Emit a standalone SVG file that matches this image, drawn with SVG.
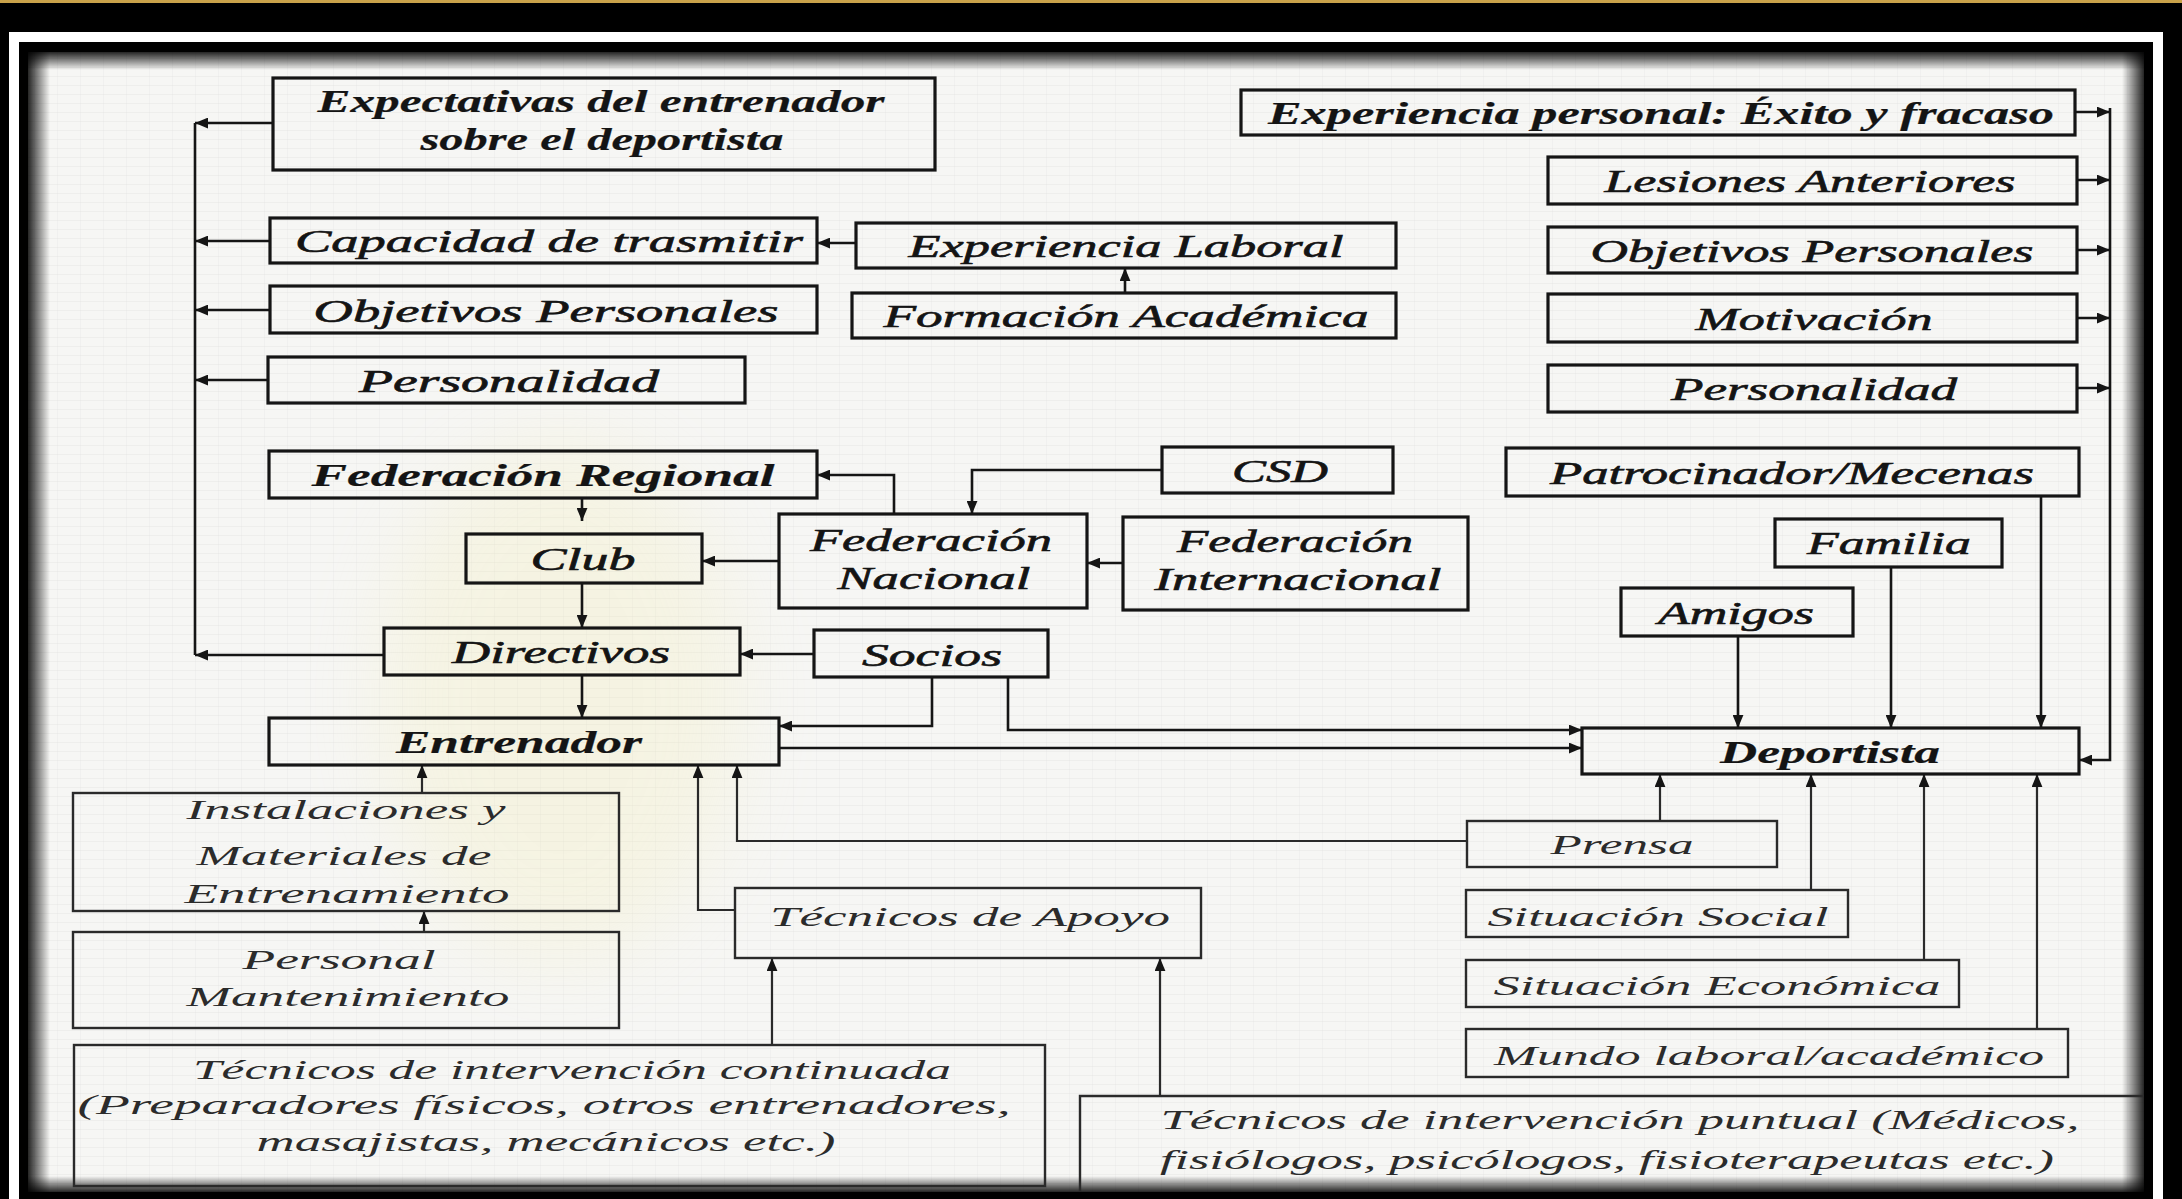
<svg xmlns="http://www.w3.org/2000/svg" width="2182" height="1199" viewBox="0 0 2182 1199">
<defs>
<style>
.bx{fill:none;stroke:#151515;stroke-width:3.2}
.bl{fill:none;stroke:#2a2a2a;stroke-width:2.4}
.t{font-family:"Liberation Serif","Times New Roman",serif;font-style:italic;fill:#141414;text-anchor:middle;font-size:31px;stroke:#141414;stroke-width:0.6}
.b{font-weight:bold;stroke-width:0.2}
.lt{fill:#2b2b2b;font-size:28px;stroke:none}
.c{fill:none;stroke:#151515;stroke-width:2.6}
.cl{fill:none;stroke:#2a2a2a;stroke-width:2.2}
</style>
<marker id="ah" viewBox="0 0 12 10" refX="12" refY="5" markerWidth="13" markerHeight="11" markerUnits="userSpaceOnUse" orient="auto"><path d="M0,0L12,5L0,10z" fill="#151515"/></marker>
<linearGradient id="gL" x1="0" y1="0" x2="1" y2="0"><stop offset="0" stop-color="#000" stop-opacity="0.85"/><stop offset="1" stop-color="#000" stop-opacity="0"/></linearGradient>
<linearGradient id="gR" x1="1" y1="0" x2="0" y2="0"><stop offset="0" stop-color="#000" stop-opacity="0.85"/><stop offset="1" stop-color="#000" stop-opacity="0"/></linearGradient>
<linearGradient id="gT" x1="0" y1="0" x2="0" y2="1"><stop offset="0" stop-color="#000" stop-opacity="0.85"/><stop offset="1" stop-color="#000" stop-opacity="0"/></linearGradient>
<linearGradient id="gB" x1="0" y1="1" x2="0" y2="0"><stop offset="0" stop-color="#000" stop-opacity="0.85"/><stop offset="1" stop-color="#000" stop-opacity="0"/></linearGradient>
<pattern id="scan" width="23" height="9" patternUnits="userSpaceOnUse"><rect width="23" height="9" fill="#f6f6f4"/><rect y="4" width="23" height="1" fill="#cfcfcf" opacity="0.22"/><rect x="11" width="1" height="9" fill="#cfcfcf" opacity="0.15"/></pattern>
<filter id="blur" x="-50%" y="-50%" width="200%" height="200%"><feGaussianBlur stdDeviation="40"/></filter>
</defs>

<g id="background">
<rect width="2182" height="1199" fill="#000"/>
<rect x="0" y="0" width="2182" height="3" fill="#c9a24a"/>
<rect x="9" y="32" width="2154" height="1200" fill="#fff"/>
<rect x="19" y="42" width="2134" height="1180" fill="#000"/>
<rect x="28" y="52" width="2116" height="1140" fill="url(#scan)"/>
<ellipse cx="560" cy="700" rx="180" ry="260" fill="#f3eaa0" opacity="0.2" filter="url(#blur)"/>
<rect x="28" y="52" width="22" height="1140" fill="url(#gL)"/>
<rect x="2122" y="52" width="22" height="1140" fill="url(#gR)"/>
<rect x="28" y="52" width="2116" height="18" fill="url(#gT)"/>
<rect x="28" y="1176" width="2116" height="16" fill="url(#gB)"/>
</g>

<g id="connectors">
<path class="c" d="M195,123V655"/>
<path class="c" d="M273,123H195" marker-end="url(#ah)"/>
<path class="c" d="M270,241H195" marker-end="url(#ah)"/>
<path class="c" d="M270,310H195" marker-end="url(#ah)"/>
<path class="c" d="M268,380H195" marker-end="url(#ah)"/>
<path class="c" d="M384,655H195" marker-end="url(#ah)"/>
<path class="c" d="M856,243H817" marker-end="url(#ah)"/>
<path class="c" d="M1125,293V268" marker-end="url(#ah)"/>
<path class="c" d="M2110,108V760H2079" marker-end="url(#ah)"/>
<path class="c" d="M2075,112H2110" marker-end="url(#ah)"/>
<path class="c" d="M2077,180H2110" marker-end="url(#ah)"/>
<path class="c" d="M2077,250H2110" marker-end="url(#ah)"/>
<path class="c" d="M2077,318H2110" marker-end="url(#ah)"/>
<path class="c" d="M2077,388H2110" marker-end="url(#ah)"/>
<path class="c" d="M894,514V475H817" marker-end="url(#ah)"/>
<path class="c" d="M1162,470H972V514" marker-end="url(#ah)"/>
<path class="c" d="M1123,563H1087" marker-end="url(#ah)"/>
<path class="c" d="M779,561H702" marker-end="url(#ah)"/>
<path class="c" d="M582,498V521" marker-end="url(#ah)"/>
<path class="c" d="M582,583V628" marker-end="url(#ah)"/>
<path class="c" d="M582,675V718" marker-end="url(#ah)"/>
<path class="c" d="M814,654H740" marker-end="url(#ah)"/>
<path class="c" d="M932,677V726H779" marker-end="url(#ah)"/>
<path class="c" d="M1008,677V730H1582" marker-end="url(#ah)"/>
<path class="c" d="M779,748H1582" marker-end="url(#ah)"/>
<path class="c" d="M1738,636V728" marker-end="url(#ah)"/>
<path class="c" d="M1891,567V728" marker-end="url(#ah)"/>
<path class="c" d="M2041,496V728" marker-end="url(#ah)"/>
<path class="cl" d="M1660,821V774" marker-end="url(#ah)"/>
<path class="cl" d="M1811,890V774" marker-end="url(#ah)"/>
<path class="cl" d="M1924,960V774" marker-end="url(#ah)"/>
<path class="cl" d="M2037,1029V774" marker-end="url(#ah)"/>
<path class="cl" d="M1467,841H737V765" marker-end="url(#ah)"/>
<path class="cl" d="M735,910H698V765" marker-end="url(#ah)"/>
<path class="cl" d="M422,793V765" marker-end="url(#ah)"/>
<path class="cl" d="M424,932V911" marker-end="url(#ah)"/>
<path class="cl" d="M772,1045V958" marker-end="url(#ah)"/>
<path class="cl" d="M1160,1095V958" marker-end="url(#ah)"/>
</g>

<g id="n-expectativas"><rect class="bx" x="273" y="78" width="662" height="92"/>
<text class="t b" font-size="29" x="601" y="112" textLength="567" lengthAdjust="spacingAndGlyphs">Expectativas del entrenador</text>
<text class="t b" font-size="29" x="602" y="150" textLength="363" lengthAdjust="spacingAndGlyphs">sobre el deportista</text></g>
<g id="n-capacidad"><rect class="bx" x="270" y="218" width="547" height="45"/>
<text class="t" x="549" y="252" textLength="508" lengthAdjust="spacingAndGlyphs">Capacidad de trasmitir</text></g>
<g id="n-objetivos-e"><rect class="bx" x="270" y="286" width="547" height="47"/>
<text class="t" x="546" y="322" textLength="465" lengthAdjust="spacingAndGlyphs">Objetivos Personales</text></g>
<g id="n-personalidad-e"><rect class="bx" x="268" y="357" width="477" height="46"/>
<text class="t" x="509" y="392" textLength="300" lengthAdjust="spacingAndGlyphs">Personalidad</text></g>
<g id="n-exp-laboral"><rect class="bx" x="856" y="223" width="540" height="45"/>
<text class="t" x="1126" y="257" textLength="435" lengthAdjust="spacingAndGlyphs">Experiencia Laboral</text></g>
<g id="n-formacion"><rect class="bx" x="852" y="293" width="544" height="45"/>
<text class="t" x="1126" y="327" textLength="485" lengthAdjust="spacingAndGlyphs">Formación Académica</text></g>

<g id="n-exp-personal"><rect class="bx" x="1241" y="90" width="834" height="45"/>
<text class="t b" font-size="31" x="1661" y="124" textLength="786" lengthAdjust="spacingAndGlyphs">Experiencia personal: Éxito y fracaso</text></g>
<g id="n-lesiones"><rect class="bx" x="1548" y="157" width="529" height="47"/>
<text class="t" x="1810" y="192" textLength="411" lengthAdjust="spacingAndGlyphs">Lesiones Anteriores</text></g>
<g id="n-objetivos-d"><rect class="bx" x="1548" y="227" width="529" height="46"/>
<text class="t" x="1812" y="262" textLength="443" lengthAdjust="spacingAndGlyphs">Objetivos Personales</text></g>
<g id="n-motivacion"><rect class="bx" x="1548" y="294" width="529" height="48"/>
<text class="t" x="1814" y="330" textLength="237" lengthAdjust="spacingAndGlyphs">Motivación</text></g>
<g id="n-personalidad-d"><rect class="bx" x="1548" y="365" width="529" height="47"/>
<text class="t" x="1814" y="400" textLength="286" lengthAdjust="spacingAndGlyphs">Personalidad</text></g>

<g id="n-fed-regional"><rect class="bx" x="269" y="451" width="548" height="47"/>
<text class="t b" x="543" y="486" textLength="463" lengthAdjust="spacingAndGlyphs">Federación Regional</text></g>
<g id="n-csd"><rect class="bx" x="1162" y="447" width="231" height="46"/>
<text class="t" x="1280" y="482" textLength="96" lengthAdjust="spacingAndGlyphs">CSD</text></g>
<g id="n-patrocinador"><rect class="bx" x="1506" y="448" width="573" height="48"/>
<text class="t" x="1792" y="484" textLength="484" lengthAdjust="spacingAndGlyphs">Patrocinador/Mecenas</text></g>
<g id="n-fed-nacional"><rect class="bx" x="779" y="514" width="308" height="94"/>
<text class="t" x="931" y="551" textLength="242" lengthAdjust="spacingAndGlyphs">Federación</text>
<text class="t" x="934" y="589" textLength="193" lengthAdjust="spacingAndGlyphs">Nacional</text></g>
<g id="n-fed-internacional"><rect class="bx" x="1123" y="517" width="345" height="93"/>
<text class="t" x="1295" y="552" textLength="236" lengthAdjust="spacingAndGlyphs">Federación</text>
<text class="t" x="1298" y="590" textLength="287" lengthAdjust="spacingAndGlyphs">Internacional</text></g>
<g id="n-familia"><rect class="bx" x="1775" y="519" width="227" height="48"/>
<text class="t" x="1889" y="554" textLength="164" lengthAdjust="spacingAndGlyphs">Familia</text></g>
<g id="n-amigos"><rect class="bx" x="1621" y="588" width="232" height="48"/>
<text class="t" x="1736" y="624" textLength="156" lengthAdjust="spacingAndGlyphs">Amigos</text></g>
<g id="n-club"><rect class="bx" x="466" y="534" width="236" height="49"/>
<text class="t" x="583" y="570" textLength="105" lengthAdjust="spacingAndGlyphs">Club</text></g>
<g id="n-directivos"><rect class="bx" x="384" y="628" width="356" height="47"/>
<text class="t" x="561" y="663" textLength="218" lengthAdjust="spacingAndGlyphs">Directivos</text></g>
<g id="n-socios"><rect class="bx" x="814" y="630" width="234" height="47"/>
<text class="t" x="932" y="666" textLength="140" lengthAdjust="spacingAndGlyphs">Socios</text></g>
<g id="n-entrenador"><rect class="bx" x="269" y="718" width="510" height="47"/>
<text class="t b" font-size="29" x="519" y="753" textLength="246" lengthAdjust="spacingAndGlyphs">Entrenador</text></g>
<g id="n-deportista"><rect class="bx" x="1582" y="728" width="497" height="46"/>
<text class="t b" font-size="29" x="1830" y="763" textLength="220" lengthAdjust="spacingAndGlyphs">Deportista</text></g>

<g id="n-instalaciones"><rect class="bl" x="73" y="793" width="546" height="118"/>
<text class="t lt" x="346" y="819" textLength="319" lengthAdjust="spacingAndGlyphs">Instalaciones y</text>
<text class="t lt" x="344" y="865" textLength="295" lengthAdjust="spacingAndGlyphs">Materiales de</text>
<text class="t lt" x="347" y="903" textLength="325" lengthAdjust="spacingAndGlyphs">Entrenamiento</text></g>
<g id="n-personal"><rect class="bl" x="73" y="932" width="546" height="96"/>
<text class="t lt" x="339" y="969" textLength="193" lengthAdjust="spacingAndGlyphs">Personal</text>
<text class="t lt" x="348" y="1006" textLength="323" lengthAdjust="spacingAndGlyphs">Mantenimiento</text></g>
<g id="n-tecnicos-apoyo"><rect class="bl" x="735" y="888" width="466" height="70"/>
<text class="t lt" x="970" y="926" textLength="400" lengthAdjust="spacingAndGlyphs">Técnicos de Apoyo</text></g>
<g id="n-tecnicos-continuada"><rect class="bl" x="74" y="1045" width="971" height="141"/>
<text class="t lt" x="572" y="1079" textLength="758" lengthAdjust="spacingAndGlyphs">Técnicos de intervención continuada</text>
<text class="t lt" x="544" y="1114" textLength="933" lengthAdjust="spacingAndGlyphs">(Preparadores físicos, otros entrenadores,</text>
<text class="t lt" x="546" y="1151" textLength="579" lengthAdjust="spacingAndGlyphs">masajistas, mecánicos etc.)</text></g>
<g id="n-prensa"><rect class="bl" x="1467" y="821" width="310" height="46"/>
<text class="t lt" x="1622" y="854" textLength="143" lengthAdjust="spacingAndGlyphs">Prensa</text></g>
<g id="n-sit-social"><rect class="bl" x="1466" y="890" width="382" height="47"/>
<text class="t lt" x="1658" y="926" textLength="341" lengthAdjust="spacingAndGlyphs">Situación Social</text></g>
<g id="n-sit-economica"><rect class="bl" x="1466" y="960" width="493" height="47"/>
<text class="t lt" x="1717" y="995" textLength="447" lengthAdjust="spacingAndGlyphs">Situación Económica</text></g>
<g id="n-mundo"><rect class="bl" x="1466" y="1029" width="602" height="48"/>
<text class="t lt" x="1769" y="1065" textLength="550" lengthAdjust="spacingAndGlyphs">Mundo laboral/académico</text></g>
<g id="n-tecnicos-puntual"><path class="bl" d="M1080,1192V1096H2144"/>
<text class="t lt" x="1620" y="1129" textLength="919" lengthAdjust="spacingAndGlyphs">Técnicos de intervención puntual (Médicos,</text>
<text class="t lt" x="1607" y="1169" textLength="894" lengthAdjust="spacingAndGlyphs">fisiólogos, psicólogos, fisioterapeutas etc.)</text></g>
</svg>
